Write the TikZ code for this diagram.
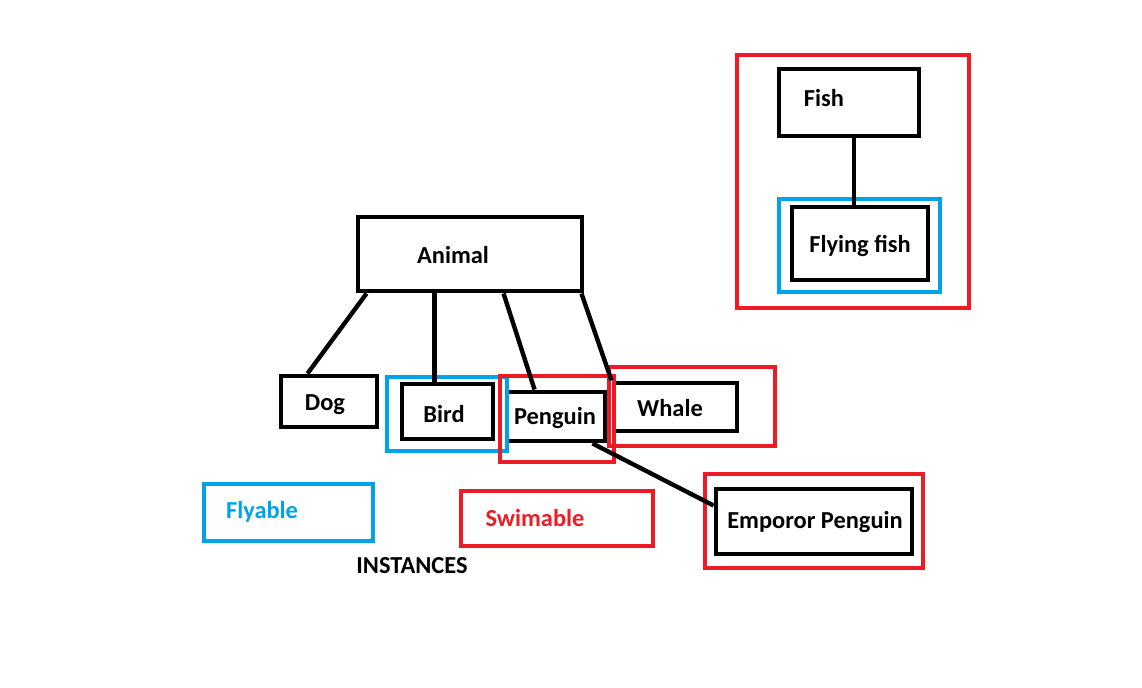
\documentclass[tikz,border=0pt]{standalone}
\usepackage{fontspec}
\setmainfont{Carlito}
\usetikzlibrary{fit,calc}

\definecolor{paintRed}{RGB}{237,28,36}
\definecolor{paintBlue}{RGB}{0,162,232}

\tikzset{
  classbox/.style={draw, line width=2.8pt, inner sep=0pt},
  redbox/.style={draw=paintRed, line width=2.3pt, inner sep=0pt},
  bluebox/.style={draw=paintBlue, line width=2.3pt, inner sep=0pt},
  nametext/.style={font=\fontsize{13.9}{16}\selectfont\bfseries, anchor=base, inner sep=0pt},
  link/.style={line width=2.5pt}
}

\begin{document}
\begin{tikzpicture}[x=0.02cm, y=-0.02cm]
  \useasboundingbox (0,0) rectangle (1142,688);
  % Classes
  \node[classbox, fit={(358,217) (582,291)}] (animal) {};
  \node[nametext] (animalText) at (453,264) {Animal};
  \node[classbox, fit={(281,376) (377,427)}] (dog) {};
  \node[nametext] (dogText) at (325,411) {Dog};
  \node[classbox, fit={(402,384) (493,439)}] (bird) {};
  \node[nametext] (birdText) at (444,423) {Bird};
  \node[classbox, fit={(507,392) (605,441)}] (penguin) {};
  \node[nametext] (penguinText) at (555,425) {Penguin};
  \node[classbox, fit={(614,383) (737,431)}] (whale) {};
  \node[nametext] (whaleText) at (670,417) {Whale};
  \node[classbox, fit={(716,489) (912,554)}] (emporor) {};
  \node[nametext] (empororText) at (815,529) {Emporor Penguin};
  \node[classbox, fit={(779,69) (919,136)}] (fish) {};
  \node[nametext] (fishText) at (824,107) {Fish};
  \node[classbox, fit={(792,207) (928,280)}] (flyingFish) {};
  \node[nametext] (flyingFishText) at (860,253) {Flying fish};
  % Interfaces
  \node[bluebox, fit={(387,377) (507,451)}] (birdFly) {};
  \node[redbox, fit={(500,376) (614,462)}] (penguinSwim) {};
  \node[redbox, fit={(609,367) (775,446)}] (whaleSwim) {};
  \node[redbox, fit={(705,474) (923,568)}] (empororSwim) {};
  \node[bluebox, fit={(779,199) (940,292)}] (flyingFishFly) {};
  \node[redbox, fit={(737,55) (969,308)}] (fishSwim) {};
  % Legend
  \node[bluebox, fit={(204,484) (373,541)}] (flyable) {};
  \node[nametext, text=paintBlue] (flyableText) at (262,519) {Flyable};
  \node[redbox, fit={(461,491) (653,546)}] (swimable) {};
  \node[nametext, text=paintRed] (swimableText) at (535,527) {Swimable};
  \node[nametext] (instances) at (412,574) {INSTANCES};
  % Inheritance
  \draw[link] ($(animal.south west)+(11,0)$) -- ($(dog.north west)+(29,0)$);
  \draw[link] ($(animal.south west)+(79,0)$) coordinate (birdTop) -- (birdTop |- bird.north);
  \draw[link] ($(animal.south west)+(148,0)$) -- ($(penguin.north west)+(30,0)$);
  \draw[link] ($(animal.south east)+(-3,0)$) -- (whale.north west);
  \draw[link] ($(penguin.south east)+(-15,0)$) -- ($(emporor.west)+(0,-16)$);
  \draw[link] ($(fish.south)+(5,0)$) coordinate (fishBottom) -- (fishBottom |- flyingFish.north);
\end{tikzpicture}
\end{document}
